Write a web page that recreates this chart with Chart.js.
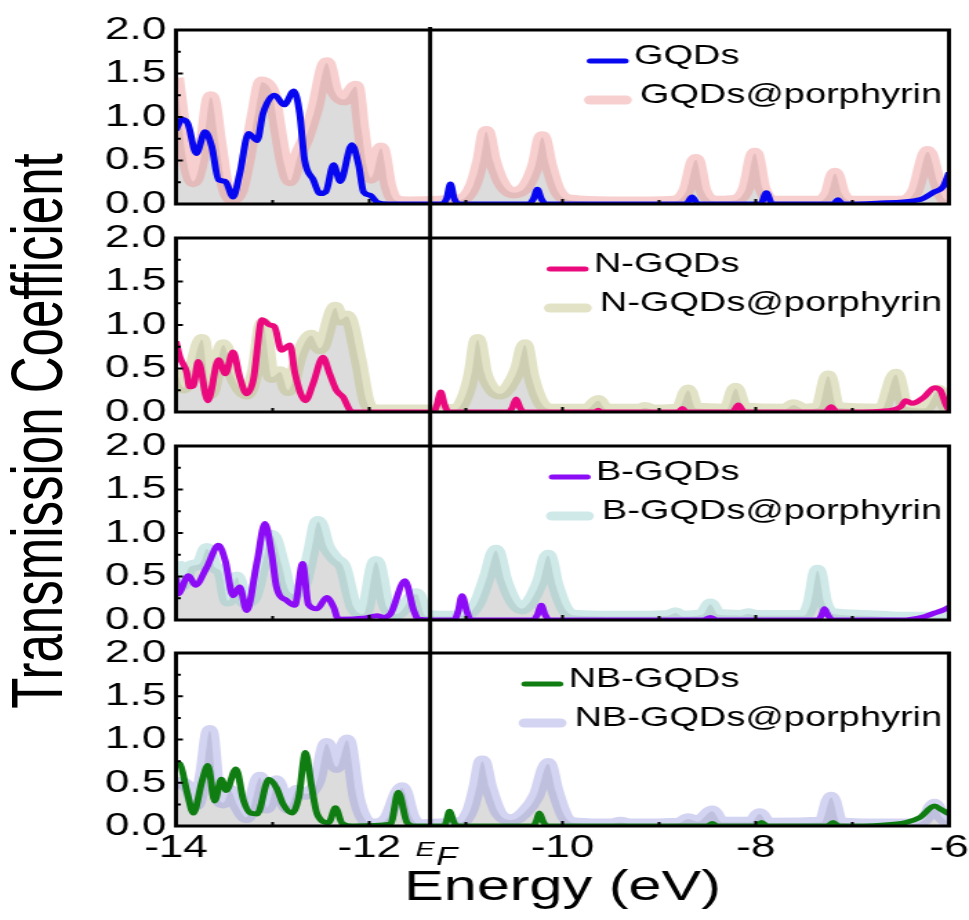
<!DOCTYPE html>
<html>
<head>
<meta charset="utf-8">
<script src="https://cdn.jsdelivr.net/npm/chart.js@4.4.1/dist/chart.umd.min.js"></script>
<style>
  html, body { margin: 0; padding: 0; background: #fff; }
  #wrap { position: relative; width: 969px; height: 920px; overflow: hidden; background: #fff; }
  #wrap canvas { position: absolute; left: 0; }
  #ytitle {
    position: absolute; left: -262px; top: 401px; width: 600px; height: 60px;
    line-height: 60px; text-align: center; white-space: nowrap; color: #000;
    font: 51px "Liberation Sans", Arial, sans-serif;
    transform: scaleX(1.4) rotate(-90deg);
  }
</style>
</head>
<body>
<div id="wrap">
  <canvas id="c1" width="702" height="221" style="top:0px;width:969px;height:221px"></canvas>
  <canvas id="c2" width="702" height="208" style="top:221px;width:969px;height:208px"></canvas>
  <canvas id="c3" width="702" height="207" style="top:429px;width:969px;height:207px"></canvas>
  <canvas id="c4" width="702" height="284" style="top:636px;width:969px;height:284px"></canvas>
  <div id="ytitle">Transmission Coefficient</div>
</div>
<script>
// Fermi level (eV)
const EF = -11.37;

// GQDs / GQDs@porphyrin
const gqdsE = [-14.0, -13.94, -13.88, -13.79, -13.70, -13.63, -13.56, -13.49, -13.41, -13.34,
  -13.25, -13.16, -13.10, -12.98, -12.88, -12.78, -12.72, -12.67, -12.58, -12.51,
  -12.45, -12.37, -12.30, -12.18, -12.11, -12.06, -11.99, -11.92, -11.80, -11.25,
  -11.20, -11.16, -11.12, -11.07, -10.35, -10.30, -10.26, -10.22, -10.17, -8.72,
  -8.66, -8.60, -7.95, -7.89, -7.83, -7.20, -7.15, -7.10, -6.75, -6.30,
  -6.15, -6.06, -6.02, -6.0];
const gqdsT = [0.85, 0.97, 0.93, 0.58, 0.83, 0.66, 0.28, 0.26, 0.08, 0.35,
  0.81, 0.73, 1.04, 1.25, 1.14, 1.30, 1.04, 0.51, 0.28, 0.12,
  0.14, 0.45, 0.26, 0.68, 0.45, 0.14, 0.10, 0.02, 0.0, 0.0,
  0.06, 0.23, 0.06, 0.0, 0.0, 0.06, 0.17, 0.06, 0.0, 0.0,
  0.08, 0.0, 0.0, 0.13, 0.0, 0.0, 0.05, 0.0, 0.01, 0.05,
  0.14, 0.2, 0.3, 0.36];
const gqdsPorE = [-14.0, -13.96, -13.90, -13.82, -13.72, -13.64, -13.56, -13.49, -13.42, -13.34,
  -13.26, -13.18, -13.11, -13.04, -13.0, -12.95, -12.88, -12.82, -12.74, -12.66,
  -12.56, -12.44, -12.36, -12.26, -12.14, -12.08, -12.03, -11.98, -11.88, -11.80,
  -11.74, -11.60, -11.05, -10.93, -10.85, -10.79, -10.72, -10.62, -10.50, -10.38,
  -10.28, -10.21, -10.14, -10.05, -9.90, -9.50, -8.85, -8.72, -8.62, -8.54,
  -8.40, -8.22, -8.10, -8.01, -7.93, -7.80, -7.35, -7.25, -7.18, -7.11,
  -7.0, -6.50, -6.35, -6.22, -6.12, -6.05, -6.0];
const gqdsPorT = [1.45, 1.10, 0.55, 0.26, 0.65, 1.23, 0.70, 0.20, 0.06, 0.15,
  0.55, 1.05, 1.40, 1.35, 1.25, 0.90, 0.46, 0.27, 0.55, 0.75,
  1.10, 1.62, 1.30, 1.20, 1.35, 0.85, 0.45, 0.30, 0.64, 0.20,
  0.05, 0.02, 0.05, 0.20, 0.50, 0.83, 0.50, 0.22, 0.13, 0.20,
  0.45, 0.77, 0.45, 0.15, 0.04, 0.02, 0.03, 0.15, 0.51, 0.15,
  0.03, 0.04, 0.18, 0.58, 0.18, 0.03, 0.03, 0.12, 0.35, 0.12,
  0.03, 0.03, 0.15, 0.60, 0.25, 0.06, 0.04];

// N-GQDs / N-GQDs@porphyrin
const nE = [-14.0, -13.96, -13.89, -13.86, -13.82, -13.77, -13.67, -13.56, -13.49, -13.41,
  -13.34, -13.27, -13.20, -13.11, -13.03, -12.98, -12.91, -12.82, -12.77, -12.66,
  -12.58, -12.48, -12.41, -12.34, -12.27, -12.20, -12.17, -11.33, -11.30, -11.26,
  -11.22, -11.18, -10.56, -10.52, -10.48, -10.44, -10.40, -9.66, -9.63, -9.60,
  -8.80, -8.76, -8.72, -8.24, -8.18, -8.12, -7.28, -7.22, -7.16, -6.70,
  -6.50, -6.45, -6.38, -6.26, -6.15, -6.09, -6.03, -6.0];
const nT = [0.81, 0.63, 0.46, 0.29, 0.30, 0.58, 0.13, 0.60, 0.44, 0.69,
  0.40, 0.21, 0.37, 1.06, 1.00, 0.98, 0.71, 0.77, 0.45, 0.13,
  0.33, 0.63, 0.44, 0.25, 0.17, 0.02, 0.0, 0.0, 0.08, 0.23,
  0.08, 0.0, 0.0, 0.05, 0.15, 0.05, 0.0, 0.0, 0.02, 0.0,
  0.0, 0.04, 0.0, 0.0, 0.08, 0.0, 0.0, 0.06, 0.0, 0.01,
  0.06, 0.13, 0.10, 0.17, 0.28, 0.25, 0.08, 0.02];
const nPorE = [-14.0, -13.92, -13.86, -13.73, -13.65, -13.51, -13.41, -13.27, -13.18, -13.10,
  -13.01, -12.92, -12.84, -12.72, -12.60, -12.51, -12.35, -12.30, -12.23, -12.11,
  -12.03, -11.94, -11.60, -11.10, -11.0, -10.94, -10.88, -10.81, -10.72, -10.64,
  -10.55, -10.46, -10.39, -10.32, -10.22, -10.10, -9.75, -9.63, -9.55, -9.20,
  -9.15, -9.05, -8.80, -8.70, -8.62, -8.30, -8.21, -8.12, -7.70, -7.61,
  -7.50, -7.35, -7.25, -7.16, -6.70, -6.55, -6.45, -6.25, -6.11, -6.03,
  -6.0];
const nPorT = [0.48, 0.28, 0.38, 0.83, 0.21, 0.77, 0.42, 0.21, 0.48, 1.02,
  0.40, 0.46, 0.25, 0.67, 0.88, 0.73, 1.20, 1.06, 1.10, 0.60,
  0.13, 0.02, 0.02, 0.03, 0.20, 0.45, 0.83, 0.45, 0.25, 0.21,
  0.30, 0.50, 0.77, 0.40, 0.10, 0.03, 0.03, 0.13, 0.03, 0.03,
  0.05, 0.02, 0.03, 0.25, 0.04, 0.03, 0.27, 0.04, 0.03, 0.08,
  0.03, 0.05, 0.41, 0.05, 0.03, 0.43, 0.06, 0.04, 0.25, 0.05,
  0.02];

// B-GQDs / B-GQDs@porphyrin
const bE = [-14.0, -13.98, -13.87, -13.80, -13.68, -13.56, -13.49, -13.41, -13.34, -13.27,
  -13.16, -13.08, -13.01, -12.96, -12.85, -12.77, -12.69, -12.63, -12.54, -12.44,
  -12.37, -12.32, -12.06, -11.92, -11.85, -11.78, -11.63, -11.54, -11.49, -11.12,
  -11.08, -11.04, -10.99, -10.95, -10.30, -10.26, -10.22, -10.18, -10.14, -8.55,
  -8.47, -8.40, -7.36, -7.32, -7.29, -7.25, -7.20, -6.50, -6.25, -6.15,
  -6.05, -6.0];
const bT = [0.49, 0.30, 0.51, 0.40, 0.61, 0.86, 0.68, 0.28, 0.38, 0.11,
  0.68, 1.11, 0.76, 0.38, 0.22, 0.17, 0.65, 0.18, 0.13, 0.26,
  0.15, 0.01, 0.02, 0.05, 0.03, 0.07, 0.45, 0.11, 0.01, 0.0,
  0.10, 0.28, 0.10, 0.0, 0.0, 0.06, 0.17, 0.06, 0.0, 0.0,
  0.03, 0.0, 0.0, 0.05, 0.13, 0.05, 0.0, 0.0, 0.04, 0.08,
  0.12, 0.15];
const bPorE = [-14.0, -13.94, -13.86, -13.75, -13.68, -13.60, -13.53, -13.46, -13.37, -13.29,
  -13.20, -13.10, -13.01, -12.91, -12.85, -12.79, -12.68, -12.60, -12.53, -12.44,
  -12.35, -12.27, -12.16, -12.06, -11.93, -11.82, -11.72, -11.51, -11.42, -11.20,
  -11.0, -10.88, -10.78, -10.69, -10.60, -10.50, -10.42, -10.33, -10.23, -10.15,
  -10.07, -9.97, -9.85, -9.20, -8.90, -8.83, -8.76, -8.55, -8.47, -8.39,
  -8.15, -8.08, -8.0, -7.50, -7.43, -7.36, -7.29, -7.20, -6.90, -6.50,
  -6.0];
const bPorT = [0.67, 0.40, 0.61, 0.65, 0.82, 0.61, 0.55, 0.22, 0.49, 0.20,
  0.26, 0.68, 0.97, 0.65, 0.38, 0.30, 0.42, 0.80, 1.13, 0.84,
  0.70, 0.61, 0.15, 0.07, 0.67, 0.15, 0.07, 0.30, 0.05, 0.04,
  0.06, 0.20, 0.50, 0.80, 0.45, 0.20, 0.13, 0.22, 0.45, 0.74,
  0.40, 0.12, 0.05, 0.04, 0.05, 0.08, 0.04, 0.06, 0.18, 0.06,
  0.05, 0.07, 0.05, 0.05, 0.20, 0.57, 0.20, 0.07, 0.05, 0.03,
  0.03];

// NB-GQDs / NB-GQDs@porphyrin
const nbE = [-14.0, -13.96, -13.89, -13.82, -13.73, -13.67, -13.60, -13.53, -13.48, -13.38,
  -13.30, -13.23, -13.16, -13.04, -12.96, -12.89, -12.80, -12.73, -12.66, -12.60,
  -12.54, -12.42, -12.35, -12.28, -12.17, -11.78, -11.70, -11.61, -11.54, -11.22,
  -11.20, -11.17, -11.13, -11.10, -10.30, -10.27, -10.24, -10.20, -10.16, -8.50,
  -8.45, -8.40, -8.0, -7.94, -7.88, -7.26, -7.20, -7.14, -6.70, -6.45,
  -6.30, -6.15, -6.08, -6.0];
const nbT = [0.73, 0.72, 0.41, 0.15, 0.52, 0.70, 0.29, 0.54, 0.41, 0.66,
  0.29, 0.15, 0.14, 0.54, 0.44, 0.25, 0.15, 0.33, 0.85, 0.48,
  0.14, 0.04, 0.21, 0.03, 0.0, 0.02, 0.39, 0.04, 0.0, 0.0,
  0.06, 0.17, 0.06, 0.0, 0.0, 0.06, 0.15, 0.05, 0.0, 0.0,
  0.03, 0.0, 0.0, 0.04, 0.0, 0.0, 0.04, 0.0, 0.01, 0.04,
  0.10, 0.23, 0.19, 0.14];
const nbPorE = [-14.0, -13.94, -13.87, -13.79, -13.72, -13.65, -13.58, -13.51, -13.44, -13.37,
  -13.27, -13.13, -13.06, -12.96, -12.85, -12.75, -12.66, -12.54, -12.44, -12.34,
  -12.23, -12.13, -12.06, -11.96, -11.82, -11.66, -11.56, -11.47, -11.30, -11.05,
  -10.95, -10.89, -10.83, -10.76, -10.66, -10.53, -10.40, -10.27, -10.15, -10.07,
  -9.97, -9.85, -9.50, -9.40, -9.30, -8.80, -8.70, -8.60, -8.45, -8.35,
  -8.05, -7.96, -7.87, -7.32, -7.22, -7.13, -6.90, -6.40, -6.25, -6.15,
  -6.07, -6.0];
const nbPorT = [0.48, 0.50, 0.44, 0.25, 0.60, 1.10, 0.41, 0.27, 0.41, 0.25,
  0.10, 0.56, 0.21, 0.52, 0.21, 0.41, 0.37, 0.52, 0.95, 0.68,
  0.99, 0.33, 0.10, 0.02, 0.08, 0.44, 0.10, 0.01, 0.02, 0.04,
  0.20, 0.45, 0.75, 0.45, 0.15, 0.07, 0.15, 0.35, 0.72, 0.40,
  0.10, 0.03, 0.02, 0.04, 0.02, 0.03, 0.08, 0.05, 0.17, 0.04,
  0.04, 0.14, 0.03, 0.04, 0.33, 0.04, 0.02, 0.02, 0.08, 0.25,
  0.10, 0.04];

const FONT = '"Liberation Sans", Arial, sans-serif';

function pts(es, ts) {
  return es.map((e, i) => ({ x: e, y: ts[i] }));
}

// frame, inward ticks and the Fermi level line
const framePlugin = {
  id: 'frame',
  afterDatasetsDraw(chart, args, opts) {
    const { ctx, chartArea: a, scales: { x, y } } = chart;
    ctx.save();
    ctx.strokeStyle = '#000';
    ctx.lineWidth = 2;
    ctx.beginPath();
    for (let k = 0; k <= 8; k++) {
      const py = y.getPixelForValue(k * 0.25);
      const len = k % 2 === 0 ? 5 : 3.5;
      ctx.moveTo(a.left, py);
      ctx.lineTo(a.left + len, py);
    }
    for (let e = -13; e <= -7; e++) {
      const px = x.getPixelForValue(e);
      const len = e % 2 === 0 ? 5 : 4;
      ctx.moveTo(px, a.bottom);
      ctx.lineTo(px, a.bottom - len);
    }
    ctx.stroke();
    ctx.lineWidth = 3;
    ctx.strokeRect(a.left, a.top, a.right - a.left, a.bottom - a.top);
    const ex = x.getPixelForValue(EF);
    ctx.beginPath();
    ctx.moveTo(ex, opts.first ? a.top - 3 : 0);
    ctx.lineTo(ex, opts.last ? a.bottom : chart.height);
    ctx.stroke();
    if (opts.last) {
      ctx.fillStyle = '#000';
      ctx.textBaseline = 'alphabetic';
      ctx.font = 'italic 21px ' + FONT;
      ctx.textAlign = 'right';
      ctx.fillText('E', ex + 3.5, a.bottom + 30);
      ctx.font = 'italic 25px ' + FONT;
      ctx.textAlign = 'left';
      ctx.fillText('F', ex + 4.5, a.bottom + 39);
    }
    ctx.restore();
  }
};

// legend drawn inside the panel, upper right
const legendPlugin = {
  id: 'panelLegend',
  afterDraw(chart) {
    const { ctx, chartArea: a } = chart;
    const ds = chart.data.datasets;
    ctx.save();
    ctx.font = '27.5px ' + FONT;
    ctx.textBaseline = 'middle';
    ctx.textAlign = 'left';
    const w2 = ctx.measureText(ds[1].label).width;
    const t2x = a.right - 5 - w2;
    const t1x = t2x - 4.3;
    const rows = [
      { d: ds[0], tx: t1x, ty: a.top + 26, s0: t1x - 31.7, s1: t1x - 6.3, sy: a.top + 31, lw: 5 },
      { d: ds[1], tx: t2x, ty: a.top + 65, s0: t2x - 36, s1: t2x - 10.3, sy: a.top + 70, lw: 9 }
    ];
    rows.forEach(r => {
      ctx.strokeStyle = r.d.borderColor;
      ctx.lineWidth = r.lw;
      ctx.lineCap = 'round';
      ctx.beginPath();
      ctx.moveTo(r.s0, r.sy);
      ctx.lineTo(r.s1, r.sy);
      ctx.stroke();
      ctx.fillStyle = '#000';
      ctx.fillText(r.d.label, r.tx, r.ty);
    });
    ctx.restore();
  }
};

const panels = [
  { id: 'c1', names: ['GQDs', 'GQDs@porphyrin'], data: [[gqdsE, gqdsT], [gqdsPorE, gqdsPorT]],
    line: '#0808f0', band: 'rgba(238,140,140,0.42)', top: 30, bottom: 17 },
  { id: 'c2', names: ['N-GQDs', 'N-GQDs@porphyrin'], data: [[nE, nT], [nPorE, nPorT]],
    line: '#ea0a7e', band: 'rgba(185,185,120,0.42)', top: 17, bottom: 17 },
  { id: 'c3', names: ['B-GQDs', 'B-GQDs@porphyrin'], data: [[bE, bT], [bPorE, bPorT]],
    line: '#8b0cf5', band: 'rgba(140,200,200,0.42)', top: 17, bottom: 16 },
  { id: 'c4', names: ['NB-GQDs', 'NB-GQDs@porphyrin'], data: [[nbE, nbT], [nbPorE, nbPorT]],
    line: '#0f7d12', band: 'rgba(150,150,225,0.42)', top: 17, bottom: 0 }
];

panels.forEach((p, idx) => {
  const last = idx === panels.length - 1;
  new Chart(document.getElementById(p.id), {
    type: 'line',
    data: {
      datasets: [
        {
          label: p.names[0],
          data: pts(p.data[0][0], p.data[0][1]),
          borderColor: p.line,
          borderWidth: 5,
          pointRadius: 0,
          fill: false,
          cubicInterpolationMode: 'monotone',
          borderJoinStyle: 'round',
          clip: 0
        },
        {
          label: p.names[1],
          data: pts(p.data[1][0], p.data[1][1]),
          borderColor: p.band,
          backgroundColor: 'rgba(150,150,150,0.33)',
          borderWidth: 11.5,
          pointRadius: 0,
          fill: 'origin',
          cubicInterpolationMode: 'monotone',
          borderJoinStyle: 'round',
          clip: 0
        }
      ]
    },
    options: {
      responsive: false,
      animation: false,
      devicePixelRatio: 1,
      events: [],
      layout: { padding: { top: p.top, bottom: p.bottom, left: 0, right: 14.5 } },
      plugins: {
        legend: { display: false },
        tooltip: { enabled: false },
        frame: { first: idx === 0, last: last }
      },
      scales: {
        x: {
          type: 'linear',
          min: -14,
          max: -6,
          display: last,
          grid: { display: false, drawTicks: false },
          border: { display: false },
          ticks: { stepSize: 2, color: '#000', padding: 3, font: { family: FONT, size: 32, lineHeight: 1.2 } },
          title: {
            display: last,
            text: 'Energy (eV)',
            color: '#000',
            font: { family: FONT, size: 43, lineHeight: 1 },
            padding: { top: 0, bottom: 10 }
          },
          afterFit(scale) {
            scale.height = last ? 94 : 0;
            scale.paddingLeft = 0;
            scale.paddingRight = 0;
          }
        },
        y: {
          min: 0,
          max: 2,
          grid: { display: false, drawTicks: false },
          border: { display: false },
          ticks: {
            stepSize: 0.5,
            color: '#000',
            padding: 7,
            font: { family: FONT, size: 32, lineHeight: 1.2 },
            callback: v => v.toFixed(1)
          },
          afterFit(scale) {
            scale.width = 127.5;
            scale.paddingTop = 0;
            scale.paddingBottom = 0;
          }
        }
      }
    },
    plugins: [framePlugin, legendPlugin]
  });
});
</script>
</body>
</html>
